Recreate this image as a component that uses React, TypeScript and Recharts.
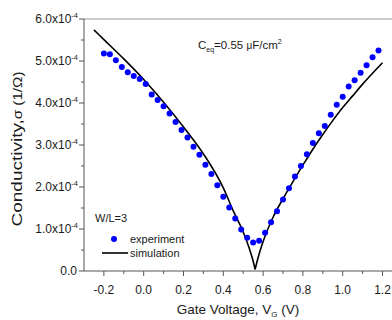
import React from 'react';
import { ComposedChart, Line, Scatter, XAxis, YAxis, ReferenceLine } from 'recharts';

// Experiment: gate voltage (V) and conductivity (units of 1e-4 1/Ω)
const expVoltage = [
  -0.2, -0.17, -0.14, -0.11, -0.08, -0.05, -0.02, 0.01, 0.04, 0.07, 0.1, 0.13, 0.16, 0.19, 0.22, 0.25,
  0.28, 0.31, 0.34, 0.37, 0.4, 0.43, 0.46, 0.49, 0.52, 0.55, 0.58, 0.61, 0.64, 0.67, 0.7, 0.73,
  0.76, 0.79, 0.82, 0.85, 0.88, 0.91, 0.94, 0.97, 1.0, 1.03, 1.06, 1.09, 1.12, 1.15, 1.18,
];
const expSigma = [
  5.18, 5.16, 5.02, 4.86, 4.73, 4.64, 4.57, 4.45, 4.2, 4.07, 3.92, 3.75, 3.55, 3.36, 3.18, 2.96,
  2.77, 2.53, 2.31, 2.04, 1.77, 1.51, 1.25, 0.99, 0.79, 0.68, 0.72, 0.91, 1.16, 1.42, 1.7, 1.97,
  2.25, 2.5, 2.78, 3.05, 3.28, 3.45, 3.72, 3.96, 4.15, 4.39, 4.54, 4.72, 4.9, 5.09, 5.25,
];

// Simulation, left (decreasing) and right (increasing) branches around the Dirac point
const simLeftVoltage = [-0.25, -0.2, -0.1, 0.0, 0.1, 0.2, 0.3, 0.4, 0.45, 0.5, 0.53, 0.545, 0.56];
const simLeftSigma = [5.74, 5.51, 5.05, 4.56, 4.02, 3.43, 2.79, 1.98, 1.43, 0.93, 0.55, 0.32, 0.04];
const simRightVoltage = [0.56, 0.575, 0.6, 0.65, 0.7, 0.75, 0.8, 0.85, 0.9, 0.95, 1.0, 1.05, 1.1, 1.15, 1.2];
const simRightSigma = [0.04, 0.32, 0.7, 1.28, 1.72, 2.13, 2.52, 2.9, 3.25, 3.58, 3.89, 4.17, 4.45, 4.71, 4.96];

const xMajorTicks = [-0.2, 0, 0.2, 0.4, 0.6, 0.8, 1.0, 1.2];
const xMinorTicks = [-0.1, 0.1, 0.3, 0.5, 0.7, 0.9, 1.1];
const yMajorTicks = [0, 1, 2, 3, 4, 5, 6];
const yMinorTicks = [0.5, 1.5, 2.5, 3.5, 4.5, 5.5];

const expData = expVoltage.map((v, i) => ({ v, s: expSigma[i] }));
const simLeft = simLeftVoltage.map((v, i) => ({ v, s: simLeftSigma[i] }));
const simRight = simRightVoltage.map((v, i) => ({ v, s: simRightSigma[i] }));

const FONT = '"Liberation Sans", Arial, Helvetica, sans-serif';
const AXIS = '#555';
const TEXT = '#1a1a1a';
const BLUE = '#0000ff';
const W = 410;
const H = 320;
const PLOT_LEFT = 84;
const PLOT_TOP = 19;
const PLOT_BOTTOM = 271;
const PLOT_RIGHT = 402.4;

const isIn = (arr: number[], v: number) => arr.some((t) => Math.abs(t - v) < 1e-6);

const XTick = (props: any) => {
  const { x, payload } = props;
  const v = payload.value as number;
  const major = isIn(xMajorTicks, v);
  return (
    <g>
      <line x1={x} x2={x} y1={PLOT_BOTTOM} y2={PLOT_BOTTOM + (major ? 5 : 3)} stroke={AXIS} strokeWidth={1} />
      {major && (
        <text x={x} y={PLOT_BOTTOM + 23} textAnchor="middle" fontFamily={FONT} fontSize={12} fill={TEXT}>
          {v.toFixed(1)}
        </text>
      )}
    </g>
  );
};

const YTick = (props: any) => {
  const { y, payload } = props;
  const v = payload.value as number;
  const major = isIn(yMajorTicks, v);
  return (
    <g>
      <line x1={PLOT_LEFT - (major ? 5 : 3)} x2={PLOT_LEFT} y1={y} y2={y} stroke={AXIS} strokeWidth={1} />
      {major &&
        (v === 0 ? (
          <text x={77} y={y + 4.3} textAnchor="end" fontFamily={FONT} fontSize={12} fill={TEXT}>
            0.0
          </text>
        ) : (
          <text x={78} y={y + 4.3} textAnchor="end" fontFamily={FONT} fontSize={12} fill={TEXT}>
            <tspan>{v.toFixed(1)}x10</tspan>
            <tspan dy={-5} fontSize={7.5}>-4</tspan>
          </text>
        ))}
    </g>
  );
};

const Dot = (p: any) => <circle cx={p.cx} cy={p.cy} r={3} fill={BLUE} />;

export default function App() {
  return (
    <div
      style={{
        position: 'absolute',
        left: 0,
        top: 0,
        width: 392,
        height: 320,
        overflow: 'hidden',
        background: '#fff',
      }}
    >
      <ComposedChart
        width={W}
        height={H}
        margin={{ top: PLOT_TOP, right: W - PLOT_RIGHT, left: 0, bottom: 0 }}
      >
        <XAxis
          type="number"
          dataKey="v"
          domain={[-0.3, 1.3]}
          ticks={[...xMajorTicks, ...xMinorTicks].sort((a, b) => a - b)}
          interval={0}
          tick={XTick}
          tickLine={false}
          axisLine={{ stroke: AXIS, strokeWidth: 1 }}
          height={H - PLOT_BOTTOM}
          allowDataOverflow
        />
        <YAxis
          type="number"
          dataKey="s"
          domain={[0, 6]}
          ticks={[...yMajorTicks, ...yMinorTicks].sort((a, b) => a - b)}
          interval={0}
          tick={YTick}
          tickLine={false}
          axisLine={{ stroke: AXIS, strokeWidth: 1 }}
          width={PLOT_LEFT}
          allowDataOverflow
        />
        <ReferenceLine y={6} stroke="#999" strokeWidth={1} />
        <Line
          data={simLeft}
          dataKey="s"
          type="monotone"
          stroke="#000"
          strokeWidth={1.6}
          dot={false}
          isAnimationActive={false}
        />
        <Line
          data={simRight}
          dataKey="s"
          type="monotone"
          stroke="#000"
          strokeWidth={1.6}
          dot={false}
          isAnimationActive={false}
        />
        <Scatter data={expData} dataKey="s" shape={Dot} isAnimationActive={false} />
      </ComposedChart>
      <svg
        width={392}
        height={320}
        style={{ position: 'absolute', left: 0, top: 0, pointerEvents: 'none' }}
        fontFamily={FONT}
      >
        <text
          transform="translate(22,149) rotate(-90)"
          textAnchor="middle"
          fill={TEXT}
          fontSize={15}
          textLength={155}
          lengthAdjust="spacingAndGlyphs"
        >
          <tspan>Conductivity,</tspan>
          <tspan fontSize={12}>σ (1/Ω)</tspan>
        </text>
        <text x={238} y={314} textAnchor="middle" fill={TEXT} fontSize={13.5}>
          <tspan>Gate Voltage, V</tspan>
          <tspan dy={3} fontSize={8}>G</tspan>
          <tspan dy={-3}> (V)</tspan>
        </text>
        <text x={198} y={49} fill={TEXT} fontSize={11.5}>
          <tspan>C</tspan>
          <tspan dy={3} fontSize={7}>eq</tspan>
          <tspan dy={-3}>=0.55 </tspan>
          <tspan fontSize={10}>μ</tspan>
          <tspan>F/cm</tspan>
          <tspan dy={-5} fontSize={7}>2</tspan>
        </text>
        <text x={95} y={222} fill={TEXT} fontSize={11}>
          W/L=3
        </text>
        <circle cx={114} cy={239} r={3} fill={BLUE} />
        <text x={130} y={243} fill={TEXT} fontSize={11}>
          experiment
        </text>
        <line x1={102} x2={128} y1={253} y2={253} stroke="#000" strokeWidth={1.6} />
        <text x={130} y={257} fill={TEXT} fontSize={11}>
          simulation
        </text>
      </svg>
    </div>
  );
}
